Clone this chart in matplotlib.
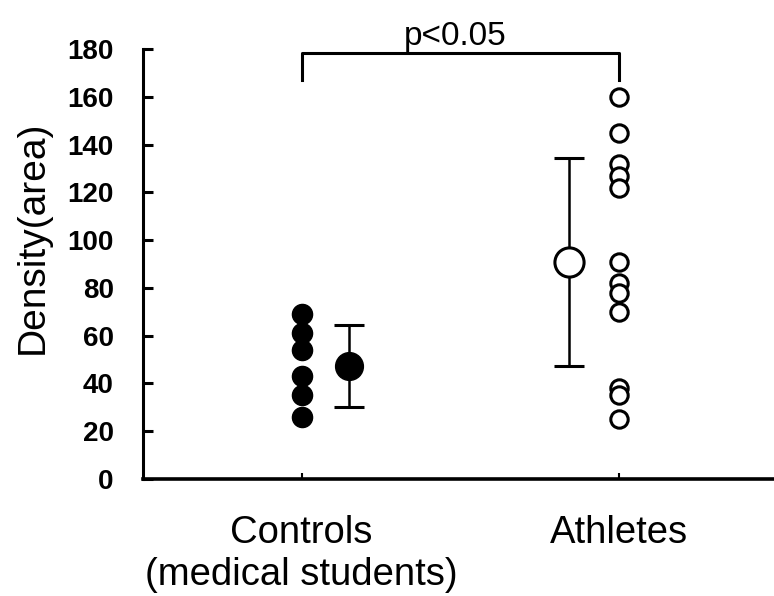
import matplotlib.pyplot as plt

plt.rcParams['font.family'] = ['Liberation Sans', 'DejaVu Sans']

# individual measurements per group
controls = [69, 61, 54, 43, 35, 26]
athletes = [160, 145, 132, 127, 122, 91, 82, 78, 70, 38, 35, 25]

# group mean and SD
means = [47.3, 91]
sds = [17, 43.5]

groups = ["Controls\n(medical students)", "Athletes"]
yticks = [0, 20, 40, 60, 80, 100, 120, 140, 160, 180]
p_text = "p<0.05"

fig = plt.figure(figsize=(7.74, 5.96), dpi=100)
ax = fig.add_axes([0.1848, 0.1963, 0.8152, 0.7215])

# raw points
ax.plot([0] * len(controls), controls, 'o', color='black', ms=14.5, mec='black', clip_on=False)
ax.plot([1] * len(athletes), athletes, 'o', mfc='white', mec='black', ms=12.5, mew=2.2, clip_on=False)

# means with SD bars, offset beside the points
ax.errorbar(0 + 0.15, means[0], yerr=sds[0], fmt='o', color='black', ms=20,
            elinewidth=1.8, capsize=11, capthick=2.2)
ax.errorbar(1 - 0.155, means[1], yerr=sds[1], fmt='o', mfc='white', mec='black', ecolor='black',
            ms=21, mew=2.2, elinewidth=1.8, capsize=11, capthick=2.2)

# significance bracket
ax.plot([0, 0, 1, 1], [167, 178.3, 178.3, 167], color='black', lw=2.2, clip_on=False)
ax.text(0.485, 178.8, p_text, ha='center', va='bottom', fontsize=24)

ax.set_xlim(-0.5, 1.49)
ax.set_ylim(0, 180)
ax.set_yticks(yticks)
ax.set_yticklabels([str(v) for v in yticks], fontsize=20, fontweight='bold')
ax.set_xticks([0, 1])
ax.set_xticklabels(groups, fontsize=27.5)

for s in ['top', 'right']:
    ax.spines[s].set_visible(False)
ax.spines['left'].set_linewidth(2.2)
ax.spines['bottom'].set_linewidth(2.6)

ax.tick_params(axis='y', direction='in', length=7, width=2.2, pad=21)
ax.tick_params(axis='x', direction='in', length=4, width=1.5, pad=26)

ax.set_ylabel("Density(area)", fontsize=28)
ax.yaxis.set_label_coords(-0.147, 0.563)

fig.savefig("out.png", dpi=100)
